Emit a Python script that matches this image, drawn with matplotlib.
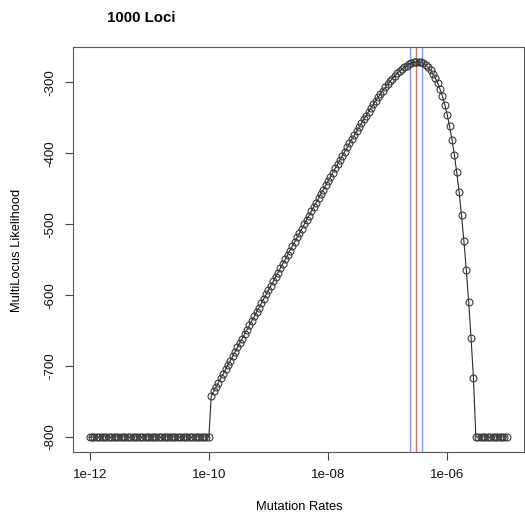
import matplotlib
matplotlib.use("Agg")
import matplotlib.pyplot as plt
import numpy as np

# log10 of the mutation rates (x values)
log10_rate = [
    -12.00, -11.96, -11.92, -11.88, -11.84, -11.80, -11.76, -11.72, -11.68, -11.64, -11.60, -11.56, -11.52,
    -11.48, -11.44, -11.40, -11.36, -11.32, -11.28, -11.24, -11.20, -11.16, -11.12, -11.08, -11.04,
    -11.00, -10.96, -10.92, -10.88, -10.84, -10.80, -10.76, -10.72, -10.68, -10.64, -10.60, -10.56, -10.52,
    -10.48, -10.44, -10.40, -10.36, -10.32, -10.28, -10.24, -10.20, -10.16, -10.12, -10.08, -10.04,
    -10.00, -9.96, -9.92, -9.88, -9.84, -9.80, -9.76, -9.72, -9.68, -9.64, -9.60, -9.56, -9.52,
    -9.48, -9.44, -9.40, -9.36, -9.32, -9.28, -9.24, -9.20, -9.16, -9.12, -9.08, -9.04,
    -9.00, -8.96, -8.92, -8.88, -8.84, -8.80, -8.76, -8.72, -8.68, -8.64, -8.60, -8.56, -8.52,
    -8.48, -8.44, -8.40, -8.36, -8.32, -8.28, -8.24, -8.20, -8.16, -8.12, -8.08, -8.04,
    -8.00, -7.96, -7.92, -7.88, -7.84, -7.80, -7.76, -7.72, -7.68, -7.64, -7.60, -7.56, -7.52,
    -7.48, -7.44, -7.40, -7.36, -7.32, -7.28, -7.24, -7.20, -7.16, -7.12, -7.08, -7.04,
    -7.00, -6.96, -6.92, -6.88, -6.84, -6.80, -6.76, -6.72, -6.68, -6.64, -6.60, -6.56, -6.52,
    -6.48, -6.44, -6.40, -6.36, -6.32, -6.28, -6.24, -6.20, -6.16, -6.12, -6.08, -6.04,
    -6.00, -5.96, -5.92, -5.88, -5.84, -5.80, -5.76, -5.72, -5.68, -5.64, -5.60, -5.56, -5.52,
    -5.48, -5.44, -5.40, -5.36, -5.32, -5.28, -5.24, -5.20, -5.16, -5.12, -5.08, -5.04,
    -5.00,
]

# multilocus log-likelihood at each rate
likelihood = [
    -800, -800, -800, -800, -800, -800, -800, -800, -800, -800, -800, -800, -800,
    -800, -800, -800, -800, -800, -800, -800, -800, -800, -800, -800, -800,
    -800, -800, -800, -800, -800, -800, -800, -800, -800, -800, -800, -800, -800,
    -800, -800, -800, -800, -800, -800, -800, -800, -800, -800, -800, -800,
    -800, -742.0, -735.8, -729.5, -723.3, -717.1, -710.9, -704.7, -698.4, -692.2, -686.0, -679.8, -673.5,
    -667.3, -661.1, -654.9, -648.7, -642.5, -636.2, -630.0, -623.8, -617.6, -611.4, -605.2, -599.0,
    -592.8, -586.6, -580.4, -574.2, -568.0, -561.8, -555.6, -549.4, -543.2, -537.0, -530.8, -524.6, -518.5,
    -512.3, -506.2, -500.0, -493.9, -487.7, -481.6, -475.5, -469.4, -463.3, -457.2, -451.1, -445.1,
    -439.0, -433.0, -427.0, -421.0, -415.1, -409.2, -403.3, -397.4, -391.6, -385.8, -380.0, -374.3, -368.6,
    -363.0, -357.5, -352.0, -346.6, -341.3, -336.1, -330.9, -325.9, -321.0, -316.2, -311.5, -307.0,
    -302.6, -298.5, -294.5, -290.8, -287.3, -284.0, -281.1, -278.4, -276.1, -274.2, -272.7, -271.7, -271.1,
    -271.1, -271.8, -273.2, -275.5, -278.6, -282.8, -288.0, -293.5, -300.8, -309.5, -319.5, -331.5,
    -345.5, -362.0, -380.8, -402.3, -426.8, -455.0, -487.5, -524.0, -564.5, -609.5, -660.5, -717.0, -800,
    -800, -800, -800, -800, -800, -800, -800, -800, -800, -800, -800, -800,
    -800,
]

x_ticks = [1e-12, 1e-10, 1e-8, 1e-6]
x_tick_labels = ["1e-12", "1e-10", "1e-08", "1e-06"]
y_ticks = [-800, -700, -600, -500, -400, -300]
y_tick_labels = ["-800", "-700", "-600", "-500", "-400", "-300"]

mle_rate = 3.0e-7
ci_rates = [2.4e-7, 3.75e-7]

title = "1000 Loci"
x_label = "Mutation Rates"
y_label = "MultiLocus Likelihood"

plt.rcParams['font.family'] = ['Liberation Sans', 'DejaVu Sans']

W, H = 525, 521
fig = plt.figure(figsize=(W / 100, H / 100), dpi=100)
ax = fig.add_axes([73 / W, 1 - 452 / H, (523.5 - 73) / W, (452 - 47) / H])

rates = [10.0 ** v for v in log10_rate]
ax.plot(rates, likelihood, color="#2a2a2a", lw=0.8, marker="o", ms=5.0,
        mfc="none", mec="#3a3a3a", mew=0.8, zorder=3)

for r in ci_rates:
    ax.axvline(r, color="#7080ff", lw=1.0, alpha=0.85, zorder=2)
ax.axvline(mle_rate, color="#d0604f", lw=1.0, alpha=0.9, zorder=2)

ax.set_xscale("log")
lx0, lx1 = log10_rate[0], log10_rate[-1]
pad = 0.04 * (lx1 - lx0)
ax.set_xlim(10 ** (lx0 - pad), 10 ** (lx1 + pad))
ymin, ymax = min(likelihood), max(likelihood)
ypad = 0.04 * (ymax - ymin)
ax.set_ylim(ymin - ypad, ymax + ypad)

ax.set_xticks(x_ticks)
ax.set_xticklabels(x_tick_labels)
ax.xaxis.set_minor_locator(matplotlib.ticker.NullLocator())
ax.set_yticks(y_ticks)
ax.set_yticklabels(y_tick_labels, rotation=90, va="center")

fs = 9.6
ax.tick_params(axis="both", direction="out", length=6, width=0.8, color="#444444",
               labelsize=fs, labelcolor="#111111")
ax.tick_params(axis="x", pad=6)
ax.tick_params(axis="y", pad=6)
for s in ax.spines.values():
    s.set_color("#555555")
    s.set_linewidth(0.8)

fig.text(107 / W, 1 - 17.5 / H, title, fontsize=10.8, fontweight="bold", ha="left", va="center")
fig.text(299 / W, 1 - 507 / H, x_label, fontsize=9.3, ha="center", va="center")
fig.text(17.5 / W, 1 - 250 / H, y_label, fontsize=9.3, ha="center", va="center", rotation=90)

fig.savefig("out.png", dpi=100)
